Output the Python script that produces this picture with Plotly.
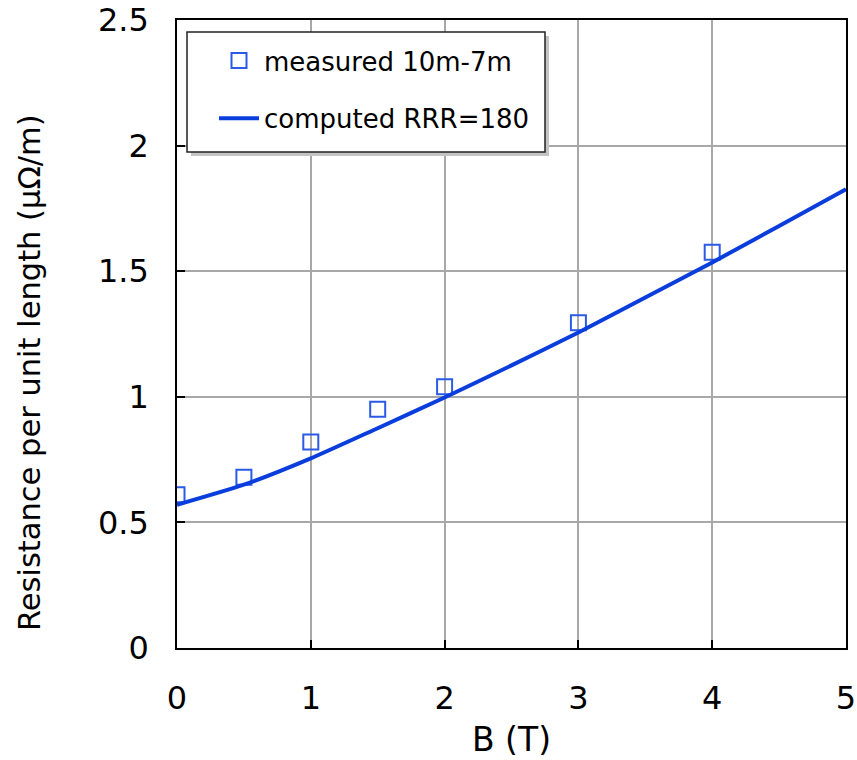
import plotly.graph_objects as go

# measured data
b_meas = [0, 0.5, 1, 1.5, 2, 3, 4]
r_meas = [0.61, 0.68, 0.82, 0.95, 1.04, 1.295, 1.575]

# computed curve RRR=180
b_comp = [0, 0.5, 1, 1.5, 2, 2.5, 3, 3.5, 4, 4.5, 5]
r_comp = [0.57, 0.65, 0.755, 0.875, 0.997, 1.125, 1.256, 1.395, 1.535, 1.68, 1.826]

x_ticks = [0, 1, 2, 3, 4, 5]
y_ticks = [0, 0.5, 1, 1.5, 2, 2.5]
y_tick_text = ["0", "0.5", "1", "1.5", "2", "2.5"]

FONT = "DejaVu Sans"

fig = go.Figure()
fig.add_trace(go.Scatter(
    x=b_meas, y=r_meas, mode="markers", name="measured 10m-7m",
    marker=dict(symbol="square-open", size=15, color="#2a5ae6", line=dict(width=2)),
    legendgroup="a",
))
fig.add_trace(go.Scatter(
    x=b_comp, y=r_comp, mode="lines", name="computed RRR=180",
    line=dict(color="#0a3edc", width=4, shape="spline", smoothing=0.6),
    legendgroup="b",
))

axis_common = dict(
    showline=True, linecolor="black", linewidth=1.5, mirror=True,
    showgrid=True, gridcolor="#a8a8a8", gridwidth=1.5,
    ticks="inside", ticklen=8, tickcolor="black", tickwidth=1.5,
    zeroline=False, automargin=False,
    tickfont=dict(family=FONT, size=32, color="black"),
)

L, T, W, H = 177, 20, 669, 628
def px_x(p):
    return (p - L) / W
def px_y(p):
    return 1 - (p - T) / H

# legend shadow and box
fig.add_shape(type="rect", xref="paper", yref="paper",
              x0=px_x(191), x1=px_x(549), y0=px_y(156), y1=px_y(36),
              fillcolor="#c4c4c4", line=dict(width=0), layer="above")
fig.add_shape(type="rect", xref="paper", yref="paper",
              x0=px_x(187), x1=px_x(545), y0=px_y(152), y1=px_y(32),
              fillcolor="white", line=dict(width=1.5, color="#222222"), layer="above")

# y-axis title
fig.add_annotation(text="Resistance per unit length (μΩ/m)", xref="paper", yref="paper",
                   x=px_x(29), y=px_y(373), textangle=-90, showarrow=False,
                   xanchor="center", yanchor="middle",
                   font=dict(family=FONT, size=30.5, color="black"))

fig.update_layout(
    width=857, height=760,
    margin=dict(l=L, r=857 - L - W, t=T, b=760 - T - H),
    plot_bgcolor="white", paper_bgcolor="white",
    font=dict(family=FONT, color="black"),
    xaxis=dict(
        range=[0, 5], tickvals=x_ticks, ticktext=[str(v) for v in x_ticks],
        title=dict(text="B (T)", font=dict(family=FONT, size=33), standoff=12),
        ticklabelstandoff=21,
        **axis_common,
    ),
    yaxis=dict(
        range=[0, 2.5], tickvals=y_ticks, ticktext=y_tick_text,
        ticklabelstandoff=20,
        **axis_common,
    ),
    legend=dict(
        x=px_x(214), y=px_y(37), xanchor="left", yanchor="top",
        bgcolor="rgba(0,0,0,0)", borderwidth=0,
        font=dict(family=FONT, size=26, color="black"),
        tracegroupgap=21, traceorder="grouped",
        itemwidth=40,
    ),
    showlegend=True,
)

fig.write_html("out.html")
